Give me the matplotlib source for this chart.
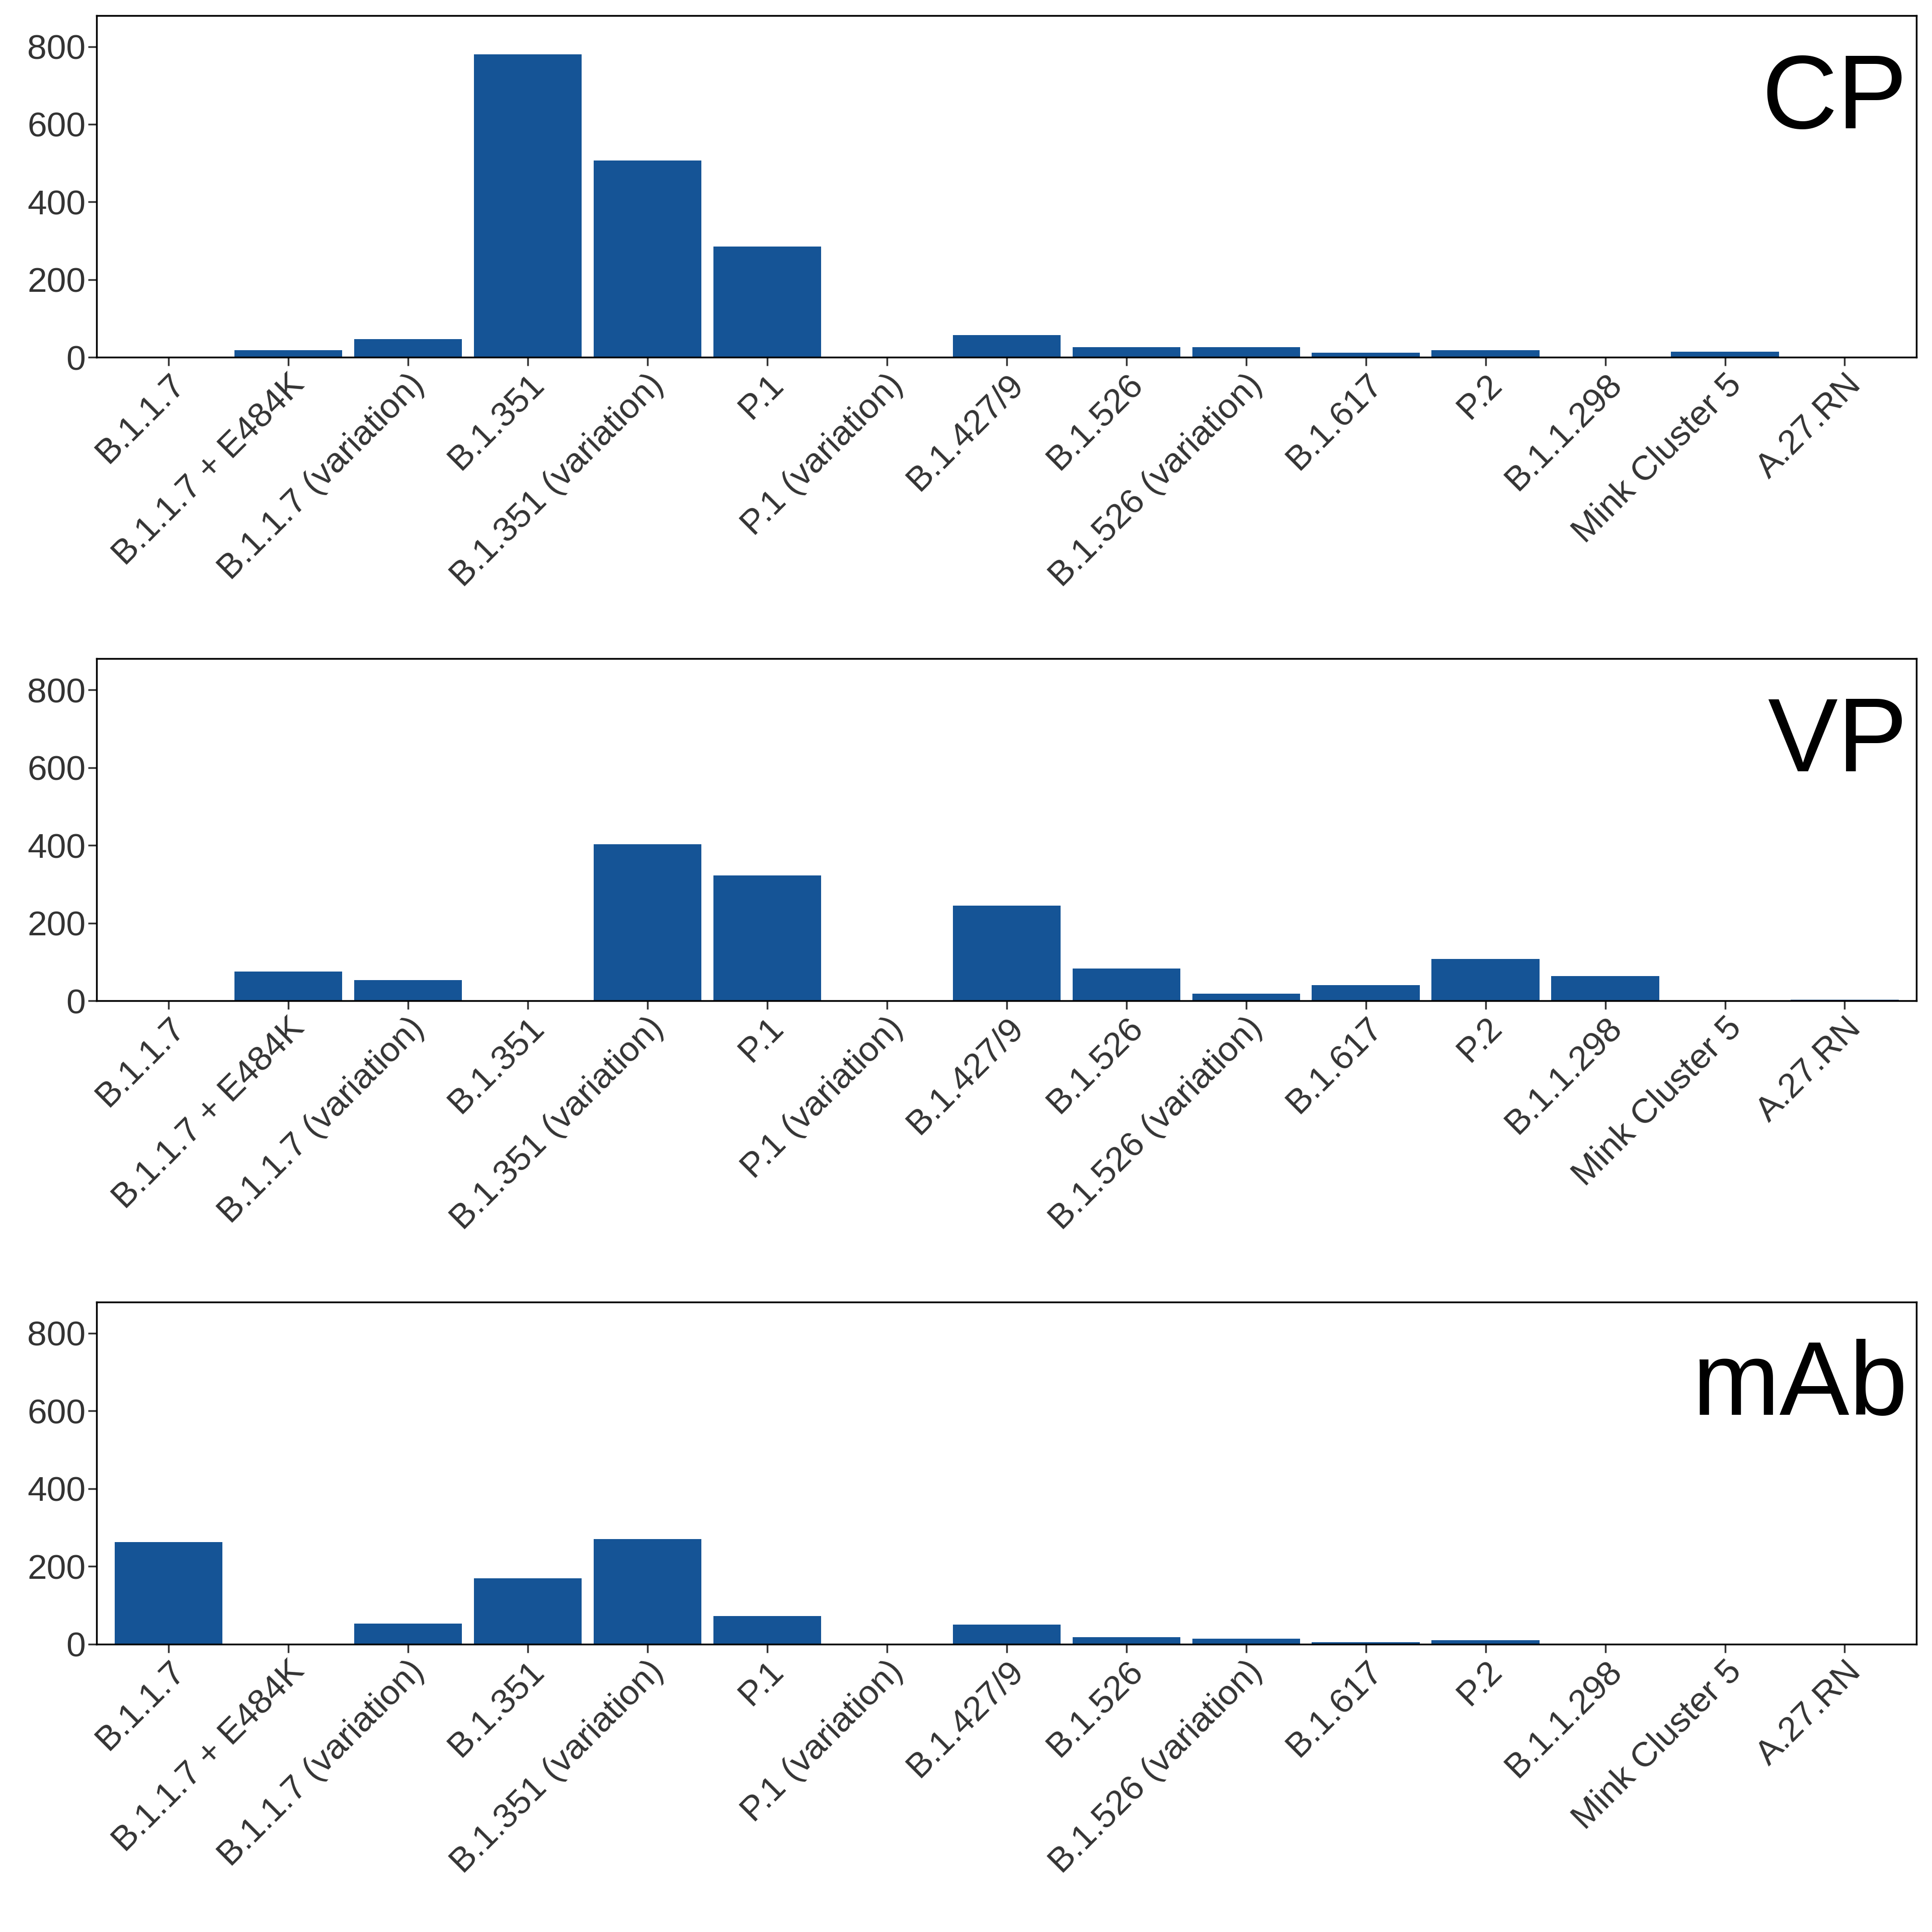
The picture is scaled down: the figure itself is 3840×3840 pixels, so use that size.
import numpy as np
import matplotlib.pyplot as plt

plt.rcParams['font.family'] = ['Liberation Sans', 'DejaVu Sans']

variants = ["B.1.1.7", "B.1.1.7 + E484K", "B.1.1.7 (variation)", "B.1.351",
            "B.1.351 (variation)", "P.1", "P.1 (variation)", "B.1.427/9",
            "B.1.526", "B.1.526 (variation)", "B.1.617", "P.2", "B.1.1.298",
            "Mink Cluster 5", "A.27.RN"]

cp_counts = [0, 18, 47, 780, 507, 285, 0, 58, 27, 27, 12, 18, 0, 15, 0]
vp_counts = [0, 75, 53, 0, 403, 322, 0, 245, 83, 18, 40, 108, 63, 0, 3]
mab_counts = [262, 0, 53, 170, 270, 72, 0, 50, 18, 14, 5, 10, 0, 0, 0]

panels = [("CP", cp_counts), ("VP", vp_counts), ("mAb", mab_counts)]
bottoms = [0.815, 0.482, 0.149]

fig = plt.figure(figsize=(38.4, 38.4), dpi=100)
x = np.arange(len(variants))

for (name, counts), bottom in zip(panels, bottoms):
    ax = fig.add_axes([0.05, bottom, 0.942, 0.177])
    ax.bar(x, counts, width=0.9, color="#155496")
    ax.set_xlim(-0.6, len(variants) - 0.4)
    ax.set_ylim(0, 880)
    ax.set_yticks([0, 200, 400, 600, 800])
    ax.set_xticks(x)
    ax.set_xticklabels(variants, rotation=45, ha="right", rotation_mode="anchor")
    ax.tick_params(labelsize=50, colors="#333333", length=12, width=2.5)
    for s in ax.spines.values():
        s.set_linewidth(2.5)
    ax.text(0.995, 0.75, name, transform=ax.transAxes, ha="right", va="center",
            fontsize=150, color="black")

fig.savefig("out.png", dpi=100)
